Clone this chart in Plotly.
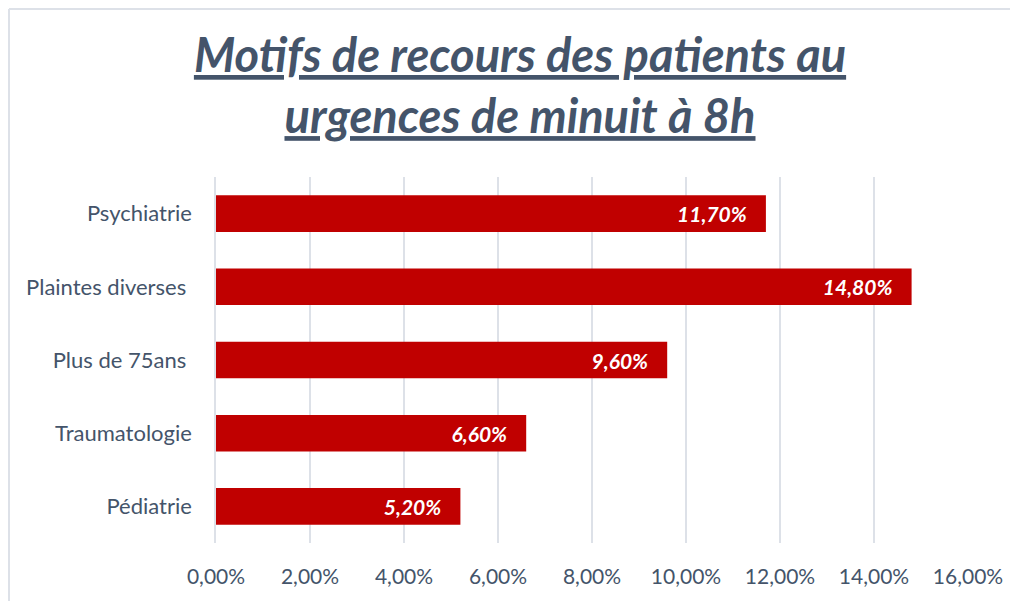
import plotly.graph_objects as go

categories = ["Psychiatrie", "Plaintes diverses ", "Plus de 75ans ", "Traumatologie", "Pédiatrie"]
values = [0.117, 0.148, 0.096, 0.066, 0.052]
tick_values = [0, 0.02, 0.04, 0.06, 0.08, 0.10, 0.12, 0.14, 0.16]
title_text = "Motifs de recours des patients au<br>urgences de minuit à 8h"

W, H = 1018, 601
OFF = 8  # page body margin offset
ML, MR, MT, MB = 216 - OFF, W - (968 - OFF), 177 - OFF, H - (543 - OFF)
TEXT = "#44546A"
GRID = "#DDE1E8"
FONT = "Lato"

fig = go.Figure(go.Bar(
    x=values,
    y=categories,
    orientation="h",
    width=0.5,
    marker=dict(color="#C00000", line=dict(width=0)),
    texttemplate="<b><i>%{x:.2%}</i></b>\u00a0\u00a0\u00a0",
    textposition="inside",
    insidetextanchor="end",
    textfont=dict(family=FONT, size=21, color="white"),
    cliponaxis=False,
))

pw = W - ML - MR
ph = H - MT - MB
def px_x(p):
    return (p - OFF - ML) / pw
def px_y(p):
    return (H - MB - (p - OFF)) / ph

border = dict(color=GRID, width=2)
fig.add_shape(type="line", xref="paper", yref="paper",
              x0=px_x(9), x1=px_x(W + 20), y0=px_y(9), y1=px_y(9), line=border)
fig.add_shape(type="line", xref="paper", yref="paper",
              x0=px_x(9), x1=px_x(9), y0=px_y(9), y1=px_y(H + 20), line=border)

fig.update_layout(
    width=W, height=H,
    margin=dict(l=ML, r=MR, t=MT, b=MB, autoexpand=False),
    paper_bgcolor="white", plot_bgcolor="white",
    separators=", ",
    showlegend=False,
    title=dict(
        text="<u>" + title_text.replace("<br>", "</u><br><u>") + "</u>",
        x=(520 - OFF) / W, xref="container", xanchor="center",
        y=1 - 64 / H, yref="container", yanchor="top",
        font=dict(family=FONT, size=47, color=TEXT, weight="bold", style="italic"),
    ),
    xaxis=dict(
        range=[0, 0.16],
        tickvals=tick_values,
        tickformat=".2%",
        showgrid=True, gridcolor=GRID, gridwidth=1.5,
        zeroline=False, showline=False,
        tickfont=dict(family=FONT, size=21, color=TEXT),
        ticks="", ticklabelstandoff=19,
    ),
    yaxis=dict(
        categoryorder="array", categoryarray=categories[::-1],
        autorange=False, range=[-0.5, 4.5],
        showgrid=False, zeroline=False,
        showline=True, linecolor=GRID, linewidth=1.5,
        tickfont=dict(family=FONT, size=22, color=TEXT),
        ticks="", ticklabelstandoff=18,
    ),
)

fig.write_html("out.html")
